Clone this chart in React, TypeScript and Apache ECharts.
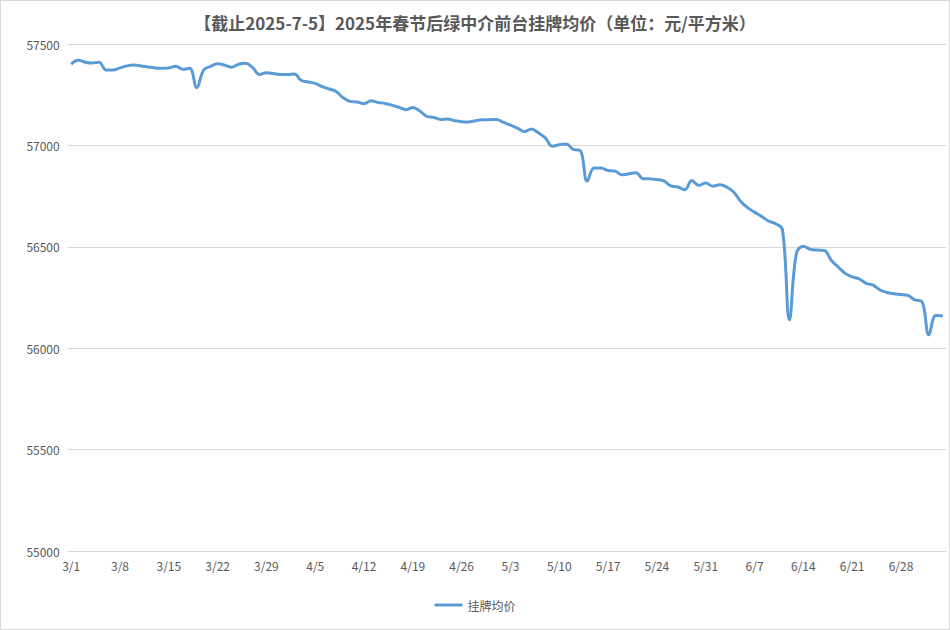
import React, { useEffect, useRef } from 'react';
import * as echarts from 'echarts';

// 3/1 .. 7/4, one point per day
const monthDays: [number, number][] = [
  [3, 31],
  [4, 30],
  [5, 31],
  [6, 30],
  [7, 4],
];

const categories: string[] = monthDays.flatMap(([m, n]) =>
  Array.from({ length: n }, (_, d) => `${m}/${d + 1}`)
);

const seriesName = '挂牌均价';

const avgPrice: number[] = [
  57400, 57420, 57410, 57406, 57410, 57372, 57372, 57382, 57392, 57396,
  57392, 57387, 57382, 57380, 57382, 57390, 57375, 57380, 57285, 57372,
  57390, 57402, 57396, 57385, 57400, 57405, 57385, 57350, 57358, 57354,
  57350, 57350, 57352, 57320, 57313, 57306, 57290, 57278, 57266, 57235,
  57217, 57214, 57206, 57220, 57212, 57207, 57198, 57188, 57176, 57187,
  57170, 57143, 57138, 57128, 57130, 57122, 57117, 57116, 57122, 57126,
  57127, 57128, 57113, 57100, 57085, 57068, 57081, 57062, 57037, 56996,
  57003, 57007, 56980, 56975, 56824, 56889, 56888, 56876, 56873, 56855,
  56860, 56865, 56836, 56835, 56832, 56825, 56800, 56795, 56781, 56827,
  56803, 56814, 56799, 56806, 56795, 56770, 56725, 56693, 56671, 56650,
  56627, 56614, 56585, 56140, 56467, 56503, 56488, 56484, 56482, 56434,
  56400, 56369, 56352, 56342, 56320, 56311, 56287, 56275, 56268, 56265,
  56260, 56238, 56230, 56066, 56161, 56160,
];

const yTicks = { min: 55000, max: 57500, step: 500 };

const textColor = '#595959';
const gridColor = '#d9d9d9';
const font = '"Noto Sans CJK SC", "Noto Sans", sans-serif';

export default function App() {
  const chartRef = useRef<HTMLDivElement>(null);

  useEffect(() => {
    if (!chartRef.current) return;
    const chart = echarts.init(chartRef.current, undefined, { renderer: 'svg' });

    chart.setOption({
      animation: false,
      backgroundColor: '#ffffff',
      textStyle: { fontFamily: font },
      title: {
        text: '【截止2025-7-5】2025年春节后绿中介前台挂牌均价（单位：元/平方米）',
        left: 'center',
        top: 8,
        textStyle: { fontSize: 17, fontWeight: 'bold', color: textColor, fontFamily: font },
      },
      grid: { left: 66.7, right: 2.7, top: 43, bottom: 78 },
      legend: {
        bottom: 13,
        left: 'center',
        icon: 'rect',
        itemWidth: 28,
        itemHeight: 3,
        itemGap: 10,
        textStyle: { fontSize: 12, color: textColor, fontFamily: font },
        data: [seriesName],
      },
      xAxis: {
        type: 'category',
        data: categories,
        boundaryGap: true,
        axisLine: { lineStyle: { color: gridColor } },
        axisTick: { interval: 6, length: 5, lineStyle: { color: gridColor } },
        axisLabel: { interval: 6, color: textColor, fontSize: 12, margin: 8 },
      },
      yAxis: {
        type: 'value',
        min: yTicks.min,
        max: yTicks.max,
        interval: yTicks.step,
        axisLine: { show: false },
        axisTick: { show: false },
        axisLabel: {
          color: textColor,
          fontSize: 12,
          margin: 8,
          formatter: (v: number) => String(v),
        },
        splitLine: { lineStyle: { color: gridColor } },
      },
      series: [
        {
          name: seriesName,
          type: 'line',
          data: avgPrice,
          smooth: 0.4,
          showSymbol: false,
          symbol: 'none',
          itemStyle: { color: '#5b9bd5' },
          lineStyle: { color: '#5b9bd5', width: 3 },
        },
      ],
    });

    return () => chart.dispose();
  }, []);

  return (
    <div
      style={{
        position: 'fixed',
        left: 0,
        top: 0,
        width: 950,
        height: 630,
        boxSizing: 'border-box',
        border: '1px solid #d9d9d9',
        background: '#fff',
      }}
    >
      <div ref={chartRef} style={{ width: 948, height: 628 }} />
    </div>
  );
}
